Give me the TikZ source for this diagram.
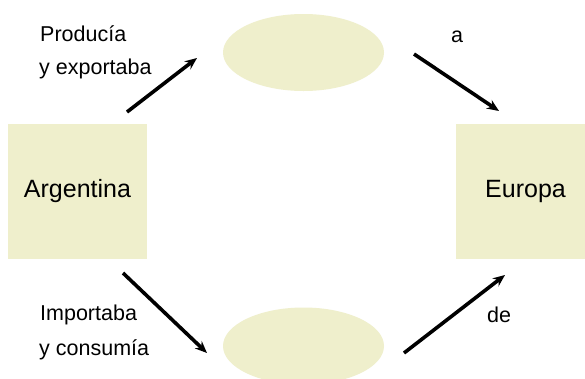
\documentclass[tikz,border=0pt]{standalone}
\usepackage{fontspec}
\setmainfont{Liberation Sans}
\usetikzlibrary{arrows.meta,shapes.geometric}
\definecolor{pale}{RGB}{239,239,204}
\tikzset{
  boxnode/.style={fill=pale,draw=none,minimum width=139pt,minimum height=135pt,inner sep=0pt,font=\fontsize{25}{30}\selectfont},
  ovalnode/.style={ellipse,fill=pale,draw=none,minimum width=161pt,minimum height=77pt,inner sep=0pt},
  lbl/.style={anchor=base west,inner sep=0pt,font=\fontsize{21.5}{26}\selectfont},
  flow/.style={line width=3.6pt,-{Stealth[length=12pt,width=10pt]}}
}
\begin{document}
\begin{tikzpicture}[x=1pt,y=-1pt]
\clip (0,0) rectangle (585,378);
\fill[white] (0,0) rectangle (585,378);
\node[boxnode] (arg) at (77.5,191.5) {Argentina};
\node[boxnode] (eur) at (525.5,191.5) {Europa};
\node[ovalnode] (top) at (303.5,52.5) {};
\node[ovalnode] (bot) at (303.5,346) {};
\node[lbl] (l1) at (40,41.7) {Producía};
\node[lbl] (l2) at (39,74) {y exportaba};
\node[lbl] (l3) at (451,42) {a};
\node[lbl] (l4) at (40,320.7) {Importaba};
\node[lbl] (l5) at (39,355) {y consumía};
\node[lbl] (l6) at (487,322) {de};
\coordinate (a1s) at (127,112);
\coordinate (a1e) at (197,58);
\coordinate (a2s) at (414,54);
\coordinate (a2e) at (499,111);
\coordinate (a3s) at (123,273);
\coordinate (a3e) at (207,353);
\coordinate (a4s) at (404,353);
\coordinate (a4e) at (505,275);
\draw[flow] (a1s) -- (a1e);
\draw[flow] (a2s) -- (a2e);
\draw[flow] (a3s) -- (a3e);
\draw[flow] (a4s) -- (a4e);
\end{tikzpicture}
\end{document}
